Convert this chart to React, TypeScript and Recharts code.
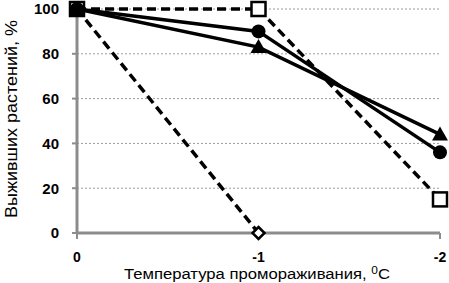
import { LineChart, Line, XAxis, YAxis, CartesianGrid, Label } from "recharts";

// Freezing temperature, °C (categories on the x axis)
const temps = ["0", "-1", "-2"];

// Survived plants, % – one array per series
const circleSeries = [100, 90, 36];
const triangleSeries = [100, 83, 44];
const squareSeries = [100, 100, 15];
const diamondSeries: (number | null)[] = [100, 0, null];

const yTicks = [0, 20, 40, 60, 80, 100];

const data = temps.map((t, i) => ({
  temp: t,
  circle: circleSeries[i],
  triangle: triangleSeries[i],
  square: squareSeries[i],
  diamond: diamondSeries[i],
}));

const FONT = '"Liberation Sans", Arial, sans-serif';
const AXIS = "#8c8c8c";

// marker renderers
const circleDot = (p: any) => {
  if (p.cy == null || p.value == null) return <g key={p.key ?? p.index} />;
  return <circle key={p.key ?? p.index} cx={p.cx} cy={p.cy} r={7} fill="#000" />;
};

const triangleDot = (p: any) => {
  if (p.cy == null || p.value == null) return <g key={p.key ?? p.index} />;
  const { cx, cy } = p;
  return (
    <polygon
      key={p.key ?? p.index}
      points={`${cx},${cy - 8} ${cx + 8},${cy + 6} ${cx - 8},${cy + 6}`}
      fill="#000"
    />
  );
};

const squareDot = (p: any) => {
  if (p.cy == null || p.value == null) return <g key={p.key ?? p.index} />;
  return (
    <rect
      key={p.key ?? p.index}
      x={p.cx - 7}
      y={p.cy - 7}
      width={14}
      height={14}
      fill="#fff"
      stroke="#000"
      strokeWidth={2.5}
    />
  );
};

const diamondDot = (p: any) => {
  if (p.cy == null || p.value == null) return <g key={p.key ?? p.index} />;
  const { cx, cy } = p;
  return (
    <polygon
      key={p.key ?? p.index}
      points={`${cx},${cy - 6} ${cx + 6},${cy} ${cx},${cy + 6} ${cx - 6},${cy}`}
      fill="#fff"
      stroke="#000"
      strokeWidth={2.5}
    />
  );
};

const XTitle = () => (
  <text
    x={257}
    y={279}
    textAnchor="middle"
    fontFamily={FONT}
    fontSize={14}
    fill="#000"
    textLength={266}
    lengthAdjust="spacingAndGlyphs"
  >
    Температура промораживания,{" "}
    <tspan dy={-5} fontSize={10}>0</tspan>
    <tspan dy={5}>C</tspan>
  </text>
);

const YTitle = () => (
  <text
    transform="rotate(-90)"
    x={-119}
    y={17}
    textAnchor="middle"
    fontFamily={FONT}
    fontSize={16}
    fill="#000"
    textLength={198}
    lengthAdjust="spacingAndGlyphs"
  >
    Выживших растений, %
  </text>
);

export default function App() {
  return (
    <div style={{ width: 449, height: 283, background: "#fff" }}>
      <style>{"body{margin:0}"}</style>
      <LineChart width={449} height={283} data={data} margin={{ top: 9, right: 9, bottom: 0, left: 0 }}>
        <CartesianGrid vertical={false} stroke="#9a9a9a" strokeDasharray="2 2" strokeWidth={1} />
        <XAxis
          dataKey="temp"
          height={50}
          interval={0}
          tickSize={6}
          tickMargin={13}
          axisLine={{ stroke: AXIS, strokeWidth: 3 }}
          tickLine={{ stroke: AXIS, strokeWidth: 2 }}
          tick={{ fontFamily: FONT, fontSize: 14, fontWeight: "bold", fill: "#000" }}
          label={<Label content={XTitle} />}
        />
        <YAxis
          width={77}
          domain={[0, 100]}
          ticks={yTicks}
          tickSize={5}
          tickMargin={13}
          axisLine={{ stroke: AXIS, strokeWidth: 3 }}
          tickLine={{ stroke: AXIS, strokeWidth: 2 }}
          tick={{ fontFamily: FONT, fontSize: 15, fontWeight: "bold", fill: "#000" }}
          label={<Label content={YTitle} />}
        />
        <Line
          dataKey="diamond"
          stroke="#000"
          strokeWidth={3.5}
          strokeDasharray="9 5"
          dot={diamondDot}
          isAnimationActive={false}
        />
        <Line
          dataKey="square"
          stroke="#000"
          strokeWidth={3.5}
          strokeDasharray="9 5"
          dot={squareDot}
          isAnimationActive={false}
        />
        <Line
          dataKey="triangle"
          stroke="#000"
          strokeWidth={3.5}
          dot={triangleDot}
          isAnimationActive={false}
        />
        <Line
          dataKey="circle"
          stroke="#000"
          strokeWidth={3.5}
          dot={circleDot}
          isAnimationActive={false}
        />
      </LineChart>
    </div>
  );
}
